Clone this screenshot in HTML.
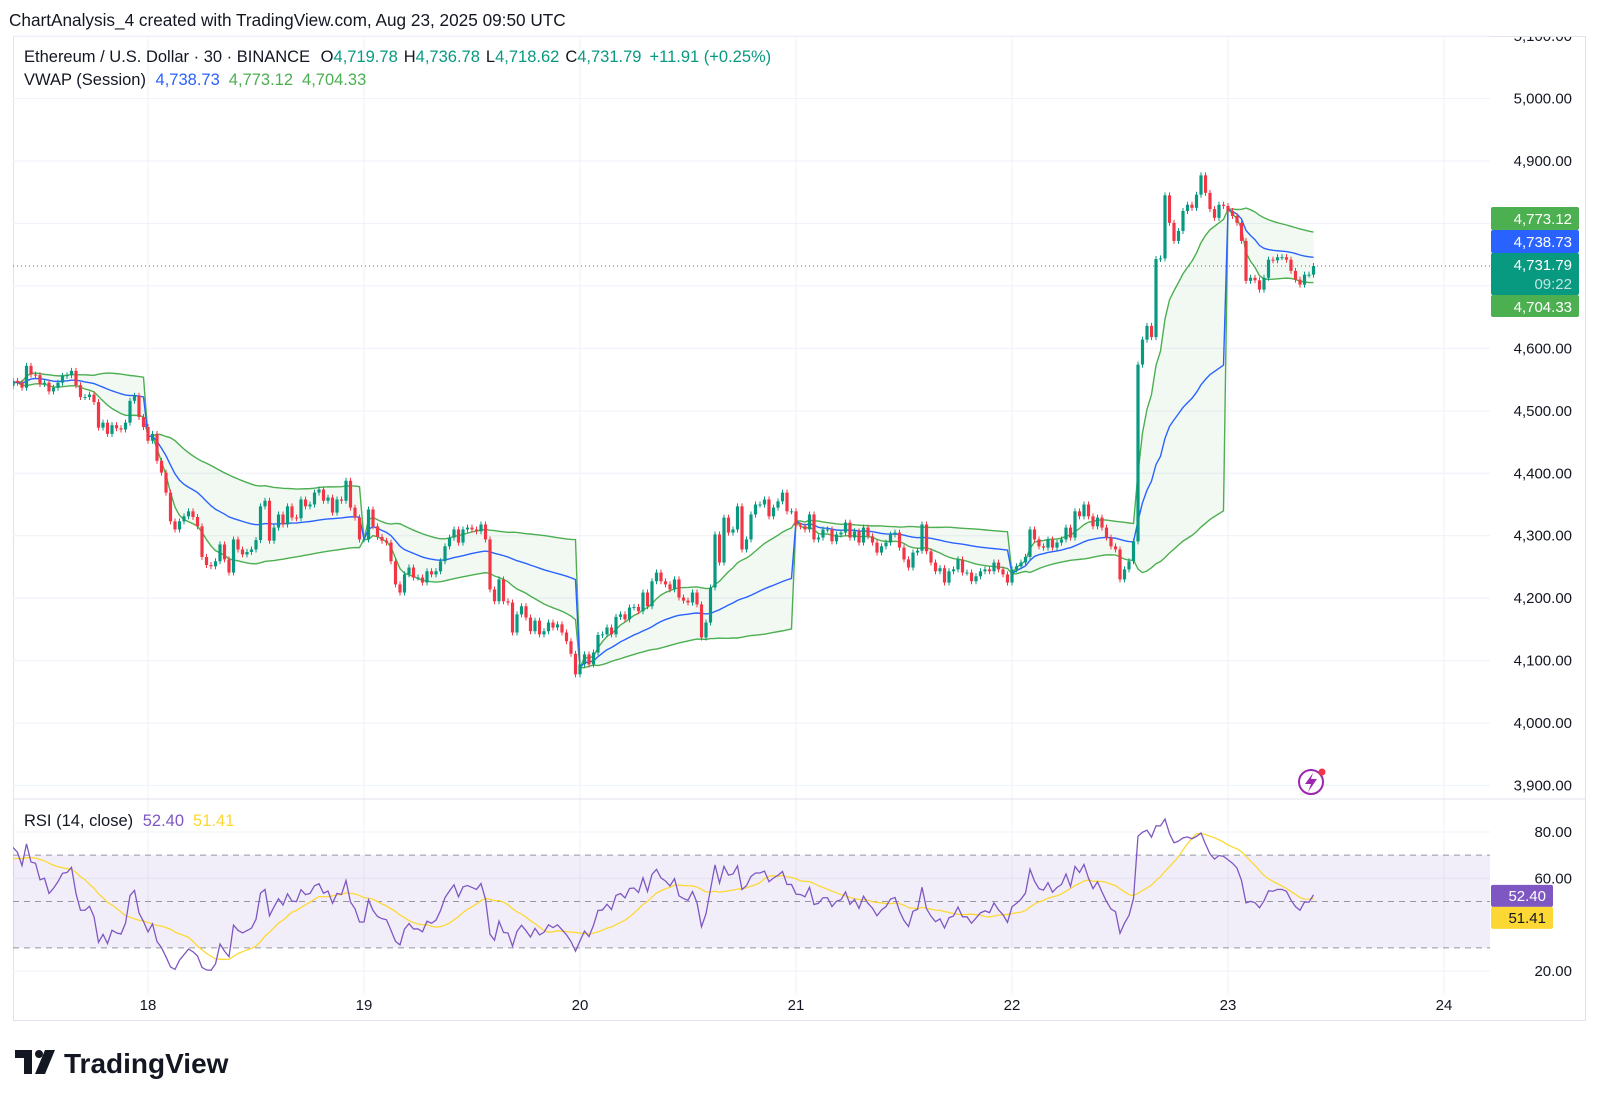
<!DOCTYPE html>
<html><head><meta charset="utf-8"><style>
html,body{margin:0;padding:0;background:#fff;width:1600px;height:1102px;overflow:hidden;font-family:"Liberation Sans",Arial,sans-serif;}
#root{position:relative;width:1600px;height:1102px;}
svg{position:absolute;left:0;top:0;}
.t{font-family:"Liberation Sans",Arial,sans-serif;}
</style></head><body>
<div id="root">
<svg id="chart" width="1600" height="1102"></svg>
</div>
<script>
const closes=[4548,4545,4537,4572,4558,4557,4543,4545,4531,4537,
4545,4556,4557,4564,4541,4522,4522,4526,4514,4473,
4481,4463,4477,4472,4470,4481,4516,4524,4490,4474,
4452,4463,4420,4401,4369,4323,4310,4323,4331,4339,
4330,4315,4266,4253,4251,4259,4286,4262,4241,4294,
4278,4270,4274,4278,4293,4347,4356,4292,4313,4334,
4318,4347,4329,4328,4358,4347,4350,4369,4374,4356,
4361,4337,4358,4356,4388,4345,4329,4294,4294,4342,
4315,4298,4292,4289,4259,4222,4209,4238,4249,4233,
4233,4225,4243,4238,4243,4259,4283,4297,4310,4289,
4310,4313,4310,4307,4318,4294,4214,4195,4230,4195,
4193,4145,4174,4187,4169,4147,4164,4142,4147,4161,
4153,4158,4145,4131,4111,4078,4094,4110,4094,4113,
4141,4142,4153,4142,4170,4174,4166,4185,4186,4179,
4209,4187,4227,4241,4227,4222,4214,4230,4201,4196,
4193,4209,4190,4137,4161,4217,4302,4257,4329,4305,
4310,4347,4278,4294,4334,4350,4350,4358,4331,4345,
4355,4369,4339,4339,4316,4315,4310,4334,4294,4297,
4310,4310,4291,4302,4305,4321,4297,4307,4289,4313,
4299,4289,4273,4283,4289,4302,4305,4281,4262,4249,
4273,4276,4318,4275,4257,4243,4248,4225,4243,4246,
4262,4241,4241,4227,4235,4243,4246,4243,4257,4246,
4238,4225,4246,4251,4257,4266,4310,4294,4283,4281,
4294,4281,4289,4294,4313,4297,4339,4331,4350,4331,
4315,4329,4313,4297,4283,4278,4230,4246,4259,4291,
4574,4614,4636,4618,4743,4744,4845,4801,4772,4788,
4820,4830,4825,4846,4877,4849,4823,4809,4830,4828,
4820,4812,4801,4772,4708,4713,4709,4694,4713,4742,
4741,4746,4746,4742,4724,4710,4702,4718,4718,4731.79];
const volumes=[
1,1,1,1,1,1,1,1,1,1, 1,1,1,1,1,1,1,1,1,1, 1,1,1,1,1,1,1,1,1,1,
1,1,1,1,1,1,1,1,1,1, 1,1,1,1,1,1,1,1,1,1, 1,1,1,1,1,1,1,1,1,1,
1,1,1,1,1,1,1,1,1,1, 1,1,1,1,1,1,1,1,1,1, 1,1,1,1,1,1,1,1,1,1,
1,1,1,1,1,1,1,1,1,1, 1,1,1,1,1,1,1,1,1,1, 1,1,1,1,1,1,1,1,1,1,
1,1,1,1,1,1,1,1,1,1, 1,1,1,1,1,1,1,1,1,1, 1,1,1,1,1,1,1,1,1,1,
1,1,1,1,1,1,1,1,1,1, 1,1,1,1,1,1,1,1,1,1, 1,1,1,1,1,1,1,1,1,1,
1,1,1,1,1,1,1,1,1,1, 1,1,1,1,1,1,1,1,1,1, 1,1,1,1,1,1,1,1,1,1,
1,1,1,1,1,1,1,1,1,1, 1,1,1,1,1,1,1,1,1,1, 1,1,1,1,1,1,1,1,1,1,
1,1,1,1,1,1,1,1,1,1,
6,4,3,2.5,4,2,4,3,2,2, 2,1.5,1.5,2,2.5,2,2,1.5,1.5,1.5,
2,1.5,1.5,1.5,2,1,1,1.5,1,1, 1,1,1,1,1,1,1,1,1,1];
const firstOpen=4540;
const priceTicks=[5100,5000,4900,4800,4700,4600,4500,4400,4300,4200,4100,4000,3900];
const rsiTicks=[80,60,20];
const dateLabels=['18','19','20','21','22','23','24'];
const dateStartIndex=[30,78,126,174,222,270,318];
const lastPrice=4731.79;
const vwapLast=[4738.73,4773.12,4704.33];
const rsiLast=[52.40,51.41];

const NS='http://www.w3.org/2000/svg';
const svg=document.getElementById('chart');
function el(tag,attrs,parent){const e=document.createElementNS(NS,tag);for(const k in attrs)e.setAttribute(k,attrs[k]);(parent||svg).appendChild(e);return e;}
function txt(s,attrs,parent){const e=el('text',attrs,parent);e.textContent=s;return e;}
const xOf=i=>148+(i-30)*4.5;
const yP=p=>161+(4900-p)*0.6245;
const yR=r=>971-(r-20)*2.317;
const PL=13,PR=1490,PT=36,PB=799;

let h=txt('ChartAnalysis_4 created with TradingView.com, Aug 23, 2025 09:50 UTC',{x:9,y:26,'font-size':17.2,fill:'#131722',class:'t'});



let fr=el('rect',{x:13.5,y:36.5,width:1572,height:984,fill:'none',stroke:'#e0e3eb'});



const defs=el('defs',{});
const cp=el('clipPath',{id:'pc'},defs);el('rect',{x:PL,y:PT,width:PR-PL,height:PB-PT},cp);
const cr=el('clipPath',{id:'rc'},defs);el('rect',{x:PL,y:PB,width:PR-PL,height:195},cr);
const ca=el('clipPath',{id:'ac'},defs);el('rect',{x:PR,y:PT+1,width:100,height:PB-PT},ca);

const grid=el('g',{});


priceTicks.forEach(p=>{const y=yP(p);if(y>PT&&y<PB){const l=el('line',{x1:PL,x2:PR,y1:y,y2:y,stroke:'#f0f3fa','stroke-width':1.2},grid);}});
dateStartIndex.forEach(i=>{const x=xOf(i);const l=el('line',{x1:x,x2:x,y1:PT,y2:995,stroke:'#f0f3fa','stroke-width':1.2},grid);});
rsiTicks.forEach(r=>{const y=yR(r);const l=el('line',{x1:PL,x2:PR,y1:y,y2:y,stroke:'#f0f3fa','stroke-width':1.2},grid);});
let sep=el('line',{x1:PL,x2:1586,y1:PB,y2:PB,stroke:'#e0e3eb'});



const opens=closes.map((c,i)=>i===0?firstOpen:closes[i-1]);
const vw=[],up=[],lo=[];
let cs=-99,sw=0,sp=0,sp2=0;
closes.forEach((c,i)=>{const s=Math.floor((i-30)/48);if(s!==cs){cs=s;sw=0;sp=0;sp2=0;}
 const o=opens[i];const tp=(Math.max(o,c)+Math.min(o,c)+c)/3;const v0=volumes[i]||1;sw+=v0;sp+=tp*v0;sp2+=tp*tp*v0;
 const v=sp/sw;const sd=Math.sqrt(Math.max(0,sp2/sw-v*v));vw.push(v);up.push(v+sd);lo.push(v-sd);});
const pg=el('g',{'clip-path':'url(#pc)'});


let fillPts=up.map((v,i)=>xOf(i)+','+yP(v)).concat(lo.map((v,i)=>xOf(i)+','+yP(v)).reverse()).join(' ');
let bf=el('polygon',{points:fillPts,fill:'rgba(76,175,80,0.07)'},pg);


const line=(arr,color,name)=>{const p=el('polyline',{points:arr.map((v,i)=>xOf(i)+','+yP(v)).join(' '),fill:'none',stroke:color,'stroke-width':1.4},pg);};
line(up,'#4caf50','vwap-upper-band');
line(lo,'#4caf50','vwap-lower-band');
line(vw,'#2962ff','vwap-line');

closes.forEach((c,i)=>{const o=opens[i];const g=c>=o;const col=g?'#089981':'#f23645';const x=xOf(i);
 const top=yP(Math.max(o,c)),bot=yP(Math.min(o,c));
 const w=el('line',{x1:x,x2:x,y1:top-3,y2:bot+3,stroke:col,'stroke-width':1},pg);
 
 
 const b=el('rect',{x:x-1.6,y:top,width:3.2,height:Math.max(1,bot-top),fill:col},pg);
 
 });

let lp=el('line',{x1:PL,x2:PR,y1:yP(lastPrice),y2:yP(lastPrice),stroke:'#089981','stroke-width':1,'stroke-dasharray':'1 3'});



const ly=yP(lastPrice);
const ax=el('g',{'clip-path':'url(#ac)'});


priceTicks.forEach(p=>{const y=yP(p);if(y>ly-65&&y<ly+58)return;const t=txt(p.toLocaleString('en-US',{minimumFractionDigits:2}),{x:1572,y:y+5,'text-anchor':'end','font-size':15,fill:'#131722',class:'t'},ax);});
function tag(y1,y2,color,lines,name){const g=el('g',{});
 el('rect',{x:1491,y:y1,width:88,height:y2-y1,rx:2,fill:color},g);
 lines.forEach((s,k)=>txt(s,{x:1572,y:y1+17+k*19,'text-anchor':'end','font-size':15,fill:k?'rgba(255,255,255,0.75)':'#fff',class:'t'},g));}
const fmt=v=>v.toLocaleString('en-US',{minimumFractionDigits:2,maximumFractionDigits:2});
tag(ly-59,ly-36,'#4caf50',[fmt(vwapLast[1])],'vwap-upper-price-tag');
tag(ly-36,ly-13,'#2962ff',[fmt(vwapLast[0])],'vwap-price-tag');
tag(ly-13,ly+29,'#089981',[fmt(lastPrice),'09:22'],'last-price-tag');
tag(ly+29,ly+51,'#4caf50',[fmt(vwapLast[2])],'vwap-lower-price-tag');

const lg=el('g',{});


const t1=el('text',{x:24,y:62,'font-size':16.5,fill:'#131722',class:'t'},lg);
t1.innerHTML='Ethereum / U.S. Dollar · 30 · BINANCE  <tspan dx="6">O</tspan><tspan fill="#089981">4,719.78</tspan><tspan dx="6">H</tspan><tspan fill="#089981">4,736.78</tspan><tspan dx="6">L</tspan><tspan fill="#089981">4,718.62</tspan><tspan dx="6">C</tspan><tspan fill="#089981">4,731.79</tspan><tspan dx="8" fill="#089981">+11.91 (+0.25%)</tspan>';
const t2=el('text',{x:24,y:85,'font-size':16.5,fill:'#131722',class:'t'},lg);
t2.innerHTML='VWAP (Session) <tspan dx="5" fill="#2962ff">4,738.73</tspan><tspan dx="9" fill="#4caf50">4,773.12</tspan><tspan dx="9" fill="#4caf50">4,704.33</tspan>';

const li=el('g',{});


el('circle',{cx:1311,cy:782,r:12,fill:'none',stroke:'#9c27b0','stroke-width':2},li);
el('path',{d:'M1313 773 L1305 784 L1311 784 L1308 792 L1317 779 L1311 779 Z',fill:'#9c27b0'},li);
el('circle',{cx:1322,cy:772,r:3.5,fill:'#f23645'},li);

const rsiSeedGain=5.5,rsiSeedLoss=2.0,rsiMaSeed=68;
const rsi=[],rsiMa=[];
let ag=rsiSeedGain,al=rsiSeedLoss;
rsi[0]=100-100/(1+ag/al);
for(let i=1;i<closes.length;i++){const d=closes[i]-closes[i-1];const g=Math.max(d,0),l=Math.max(-d,0);
 ag=(ag*13+g)/14;al=(al*13+l)/14;rsi[i]=al===0?100:100-100/(1+ag/al);}
for(let i=0;i<closes.length;i++){let s=0,n=0;for(let k=i-13;k<=i;k++){s+=k>=0?rsi[k]:rsiMaSeed;n++;}rsiMa[i]=s/n;}
const rg=el('g',{'clip-path':'url(#rc)'});


let rb=el('rect',{x:PL,y:yR(70),width:PR-PL,height:yR(30)-yR(70),fill:'rgba(126,87,194,0.1)'},rg);


[70,50,30].forEach(r=>{const l=el('line',{x1:PL,x2:PR,y1:yR(r),y2:yR(r),stroke:'#9598a1','stroke-width':1,'stroke-dasharray':'6 5'},rg);});
const rpts=a=>a.map((v,i)=>v===undefined?null:xOf(i)+','+yR(v)).filter(Boolean).join(' ');
let rm=el('polyline',{points:rpts(rsiMa),fill:'none',stroke:'#fdd835','stroke-width':1.3},rg);


let rl=el('polyline',{points:rpts(rsi),fill:'none',stroke:'#7e57c2','stroke-width':1.3},rg);


const rlg=el('text',{x:24,y:826,'font-size':16.5,fill:'#131722',class:'t'});
rlg.innerHTML='RSI (14, close) <tspan dx="5" fill="#7e57c2">52.40</tspan><tspan dx="9" fill="#fdd835">51.41</tspan>';


rsiTicks.forEach(r=>{const t=txt(r.toFixed(2),{x:1572,y:yR(r)+5,'text-anchor':'end','font-size':15,fill:'#131722',class:'t'});});
function rtag(v,y1,color,fg,name){const g=el('g',{});
 el('rect',{x:1491,y:y1,width:62,height:22,rx:2,fill:color},g);txt(v.toFixed(2),{x:1546,y:y1+16,'text-anchor':'end','font-size':15,fill:fg,class:'t'},g);}
rtag(rsiLast[0],yR(rsiLast[0])-11,'#7e57c2','#fff','rsi-value-tag');
rtag(rsiLast[1],yR(rsiLast[0])+11,'#fdd835','#131722','rsi-ma-value-tag');

dateLabels.forEach((d,k)=>{const t=txt(d,{x:xOf(dateStartIndex[k]),y:1010,'text-anchor':'middle','font-size':15,fill:'#131722',class:'t'});});

const lo2=el('g',{});


el('path',{d:'M15 1050 H32 V1074 H24 V1058 H15 Z',fill:'#131722'},lo2);
el('circle',{cx:39,cy:1054,r:4,fill:'#131722'},lo2);
el('path',{d:'M45 1050 H55 L45 1074 H35 Z',fill:'#131722'},lo2);
txt('TradingView',{x:64,y:1073,'font-size':28,'font-weight':'bold',fill:'#131722',class:'t'},lo2);
</script>
</body></html>
